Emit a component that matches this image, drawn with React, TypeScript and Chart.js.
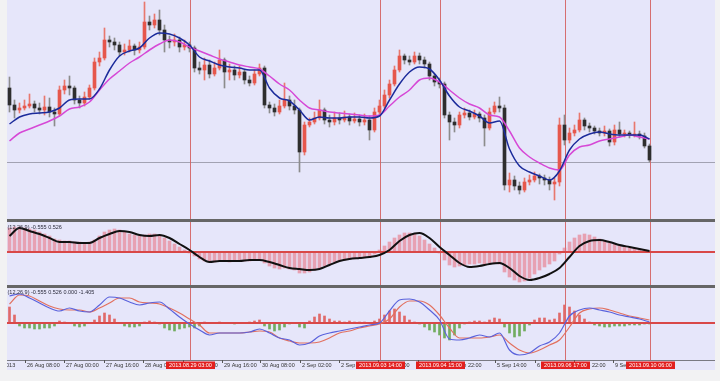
import React, { useEffect, useRef } from "react";
import { Chart, registerables } from "chart.js";

Chart.register(...registerables);

// ---------------- data (2-hour bars, price in chart units) ----------------
const opens = [
  130, 113, 108, 110, 112, 114, 110, 108, 111, 106,
  104, 128, 132, 130, 118, 115, 121, 130, 156, 160,
  178, 176, 173, 166, 168, 172, 168, 171, 196, 193,
  198, 188, 178, 176, 178, 171, 173, 170, 150, 148,
  153, 144, 150, 158, 146, 148, 143, 146, 138, 135,
  144, 150, 113, 110, 106, 112, 118, 112, 108, 66,
  93, 96, 100, 108, 98, 96, 100, 98, 101, 97,
  99, 96, 98, 88, 106, 112, 123, 134, 148, 162,
  158, 156, 162, 158, 154, 142, 136, 134, 103, 96,
  93, 103, 105, 101, 104, 100, 90, 106, 112, 110,
  33, 38, 32, 28, 36, 38, 42, 40, 38, 34,
  36, 93, 78, 85, 88, 98, 92, 90, 87, 85,
  87, 76, 88, 84, 85, 83, 84, 82, 72,
];
const highs = [
  141, 118, 115, 118, 124, 117, 115, 122, 120, 110,
  132, 138, 142, 132, 122, 126, 133, 160, 166, 190,
  182, 180, 176, 174, 178, 174, 176, 216, 202, 204,
  208, 193, 182, 184, 181, 178, 176, 172, 156, 160,
  158, 156, 168, 160, 154, 152, 152, 148, 142, 148,
  154, 152, 116, 114, 118, 135, 122, 118, 110, 96,
  100, 106, 118, 110, 103, 106, 105, 107, 104, 105,
  103, 104, 102, 110, 118, 128, 138, 152, 168, 164,
  162, 166, 165, 161, 156, 144, 140, 136, 106, 100,
  106, 110, 108, 108, 106, 103, 110, 116, 121, 113,
  45, 42, 36, 40, 43, 46, 44, 43, 41, 40,
  100, 103, 90, 93, 105, 100, 95, 92, 90, 92,
  89, 93, 96, 88, 87, 96, 87, 85, 74,
];
const lows = [
  106, 100, 105, 108, 110, 106, 104, 103, 101, 92,
  102, 124, 123, 114, 110, 112, 119, 128, 152, 158,
  171, 168, 162, 163, 166, 163, 165, 169, 188, 190,
  183, 166, 170, 172, 166, 168, 166, 146, 144, 138,
  140, 142, 148, 130, 138, 138, 140, 134, 132, 133,
  142, 110, 105, 102, 104, 110, 108, 104, 46, 63,
  91, 94, 98, 94, 91, 93, 94, 96, 93, 95,
  92, 93, 78, 86, 104, 110, 120, 132, 146, 154,
  153, 154, 154, 150, 138, 132, 130, 100, 78, 86,
  90, 100, 98, 99, 96, 72, 88, 104, 106, 28,
  26, 28, 24, 26, 33, 36, 34, 33, 28, 18,
  32, 73, 75, 82, 86, 88, 86, 84, 82, 82,
  72, 73, 81, 81, 80, 81, 79, 70, 56,
];
const closes = [
  113, 108, 110, 112, 114, 110, 108, 111, 106, 104,
  128, 132, 130, 118, 115, 121, 130, 156, 160, 178,
  176, 173, 166, 168, 172, 168, 171, 196, 193, 198,
  188, 178, 176, 178, 171, 173, 170, 150, 148, 153,
  144, 150, 158, 146, 148, 143, 146, 138, 135, 144,
  150, 113, 110, 106, 112, 118, 112, 108, 66, 93,
  96, 100, 108, 98, 96, 100, 98, 101, 97, 99,
  96, 98, 88, 106, 112, 123, 134, 148, 162, 158,
  156, 162, 158, 154, 142, 136, 134, 103, 96, 93,
  103, 105, 101, 104, 100, 90, 106, 112, 110, 33,
  38, 32, 28, 36, 38, 42, 40, 38, 34, 36,
  93, 78, 85, 88, 98, 92, 90, 87, 85, 87,
  76, 88, 84, 85, 83, 84, 82, 72, 58,
];

// smooth lines read every LINE_STEP bars
const LINE_STEP = 2;
const maFast = [
  94, 101, 104, 105, 106, 110, 118, 119, 119, 129, 148, 162, 167, 170, 180, 185,
  184, 180, 173, 161, 157, 153, 151, 150, 148, 148, 130, 120, 117, 108, 98, 101,
  100, 100, 101, 101, 100, 102, 118, 134, 146, 151, 149, 138, 122, 111, 107, 102,
  95, 97, 69, 52, 46, 42, 38, 47, 68, 79, 84, 86, 84, 83, 83, 83, 79,
];
const maSlow = [
  77, 85, 89, 93, 97, 102, 109, 111, 116, 128, 139, 147, 155, 161, 168, 174,
  178, 176, 171, 167, 163, 159, 156, 153, 151, 149, 142, 134, 128, 118, 110, 108,
  106, 105, 104, 103, 102, 103, 112, 121, 128, 138, 140, 136, 128, 120, 114, 110,
  103, 101, 87, 70, 61, 55, 50, 48, 63, 71, 73, 77, 79, 81, 83, 81, 79,
];
const refLevel = 56;

// MACD panel
const macdHist = [
  24, 25, 25, 24, 23, 22, 20, 18, 16, 13,
  12, 11, 11, 10, 10, 9, 10, 12, 16, 20,
  22, 23, 22, 20, 18, 17, 16, 17, 18, 18,
  16, 14, 11, 8, 5, 2, -1, -4, -7, -9,
  -10, -10, -9, -9, -10, -9, -8, -9, -9, -8,
  -7, -11, -14, -16, -17, -16, -17, -18, -21, -21,
  -20, -18, -16, -14, -12, -10, -9, -8, -7, -6,
  -6, -5, -5, -2, 2, 6, 10, 14, 17, 19,
  19, 18, 16, 12, 8, 4, -1, -8, -13, -15,
  -14, -13, -12, -12, -11, -12, -11, -11, -12, -20,
  -25, -28, -30, -29, -26, -22, -18, -15, -12, -9,
  -2, 4, 10, 14, 17, 18, 17, 15, 13, 11,
  9, 8, 7, 6, 5, 4, 3, 2, 1,
];
const macdSignal = [
  16, 24, 21, 18, 14, 10, 10, 9, 9, 14, 18, 21, 20, 17, 16, 17,
  14, 8, 2, -5, -10, -9, -9, -9, -8, -8, -10, -13, -16, -17, -18, -17,
  -13, -9, -7, -6, -5, -3, 2, 11, 17, 19, 14, 5, -3, -11, -15, -14,
  -12, -11, -16, -24, -28, -26, -22, -16, -5, 6, 11, 12, 10, 7, 5, 3, 1,
];

// second MACD panel (main, signal, difference)
const osMain = [
  27, 29, 25, 20, 15, 12, 15, 12, 11, 18, 26, 25, 21, 18, 20, 21,
  14, 6, -1, -7, -12, -10, -10, -10, -9, -6, -10, -15, -17, -22, -20, -13,
  -10, -8, -6, -4, -2, 0, 12, 23, 24, 21, 13, 3, -16, -17, -15, -12,
  -14, -10, -27, -32, -30, -23, -19, -10, 7, 13, 15, 13, 11, 8, 6, 4, 1,
];
const osSignal = [
  19, 28, 27, 22, 17, 14, 13, 13, 11, 15, 20, 25, 25, 21, 20, 19,
  15, 10, 4, -2, -10, -10, -10, -10, -9, -8, -9, -15, -18, -20, -20, -19,
  -15, -10, -8, -5, -3, -1, 4, 16, 22, 22, 18, 8, -5, -15, -15, -15,
  -14, -12, -20, -27, -30, -27, -22, -17, -4, 10, 14, 15, 13, 10, 7, 5, 3,
];
const osHist = [
  16, 8, -3, -5, -5, -6, -6, -5, -5, -3,
  2, 1, 0, -3, -4, -3, 0, 3, 7, 10,
  8, 4, 0, -3, -4, -4, -3, 1, 2, 1,
  -1, -5, -7, -8, -6, -5, -4, -5, -3, 1,
  0, 0, 1, 0, 0, -1, 0, 0, 1, 2,
  3, -3, -6, -8, -7, -4, -1, 0, -4, -5,
  2, 6, 9, 7, 4, 2, 2, 1, 2, 1,
  1, 1, 0, 2, 4, 8, 12, 14, 11, 7,
  3, 1, -1, -4, -7, -9, -12, -15, -17, -12,
  -5, -1, 1, 2, 2, 1, 3, 5, 4, -4,
  -10, -14, -13, -8, -2, 3, 5, 5, 3, 4,
  10, 18, 16, 12, 8, 4, 1, -2, -3, -4,
  -4, -3, -3, -3, -2, -2, -2, -1, -1,
];

// time axis
const timeLabels = [
  "23 Aug 2013", "26 Aug 08:00", "27 Aug 00:00", "27 Aug 16:00", "28 Aug 08:00",
  "29 Aug 00:00", "29 Aug 16:00", "30 Aug 08:00", "2 Sep 02:00", "2 Sep 22:00",
  "3 Sep 14:00", "4 Sep 06:00", "4 Sep 22:00", "5 Sep 14:00", "6 Sep 06:00",
  "6 Sep 22:00", "9 Sep 14:00",
];
const timeLabelBars = [
  -5.4, 3.1, 10.9, 18.9, 26.7, 34.7, 42.5, 50.1, 58.1, 65.9, 73.7, 81.7, 88.0,
  97.1, 105.1, 112.9, 120.7,
];
const markerBars = [36, 74, 86, 111, 128];
const markerLabels = [
  "2013.08.29 03:00", "2013.09.03 14:00", "2013.09.04 15:00", "2013.09.06 17:00",
  "2013.09.10 06:00",
];
const panel1Title = "(12,26,9) -0.555 0.526";
const panel2Title = "(12,26,9) -0.555 0.526 0.000 -1.405";

// ---------------- styling ----------------
const PAGE_BG = "#f2f2f3";
const PANEL_BG = "#e6e6fa";
const BULL = "#e6574c";
const BULL_WICK = "#e8786e";
const BEAR = "#2e2e2e";
const BEAR_WICK = "#8c8c8c";
const FONT = '5.5px "Liberation Sans", Arial, sans-serif';
const X_MIN = -0.5;
const X_MAX = 141.1;
const W = 708;

const xAxis = () => ({ type: "linear", min: X_MIN, max: X_MAX, offset: false, display: false });
const baseOptions = (ymin: number, ymax: number, padBottom = 0) => ({
  animation: false,
  responsive: false,
  devicePixelRatio: 1,
  events: [],
  layout: { padding: { left: 0, right: 0, top: 0, bottom: padBottom } },
  plugins: { legend: { display: false }, tooltip: { enabled: false } },
  scales: { x: xAxis(), y: { min: ymin, max: ymax, display: false } },
});

function drawMarkers(chart: any) {
  const { ctx, chartArea, scales } = chart;
  ctx.save();
  ctx.fillStyle = "rgba(212,96,96,0.9)";
  for (const b of markerBars) {
    const x = Math.round(scales.x.getPixelForValue(b));
    ctx.fillRect(x, chartArea.top, 1, chartArea.bottom - chartArea.top);
  }
  ctx.restore();
}
function drawZero(chart: any) {
  const { ctx, chartArea, scales } = chart;
  const y = Math.round(scales.y.getPixelForValue(0));
  ctx.save();
  ctx.fillStyle = "#d94848";
  ctx.fillRect(chartArea.left, y - 1, chartArea.right - chartArea.left, 2);
  ctx.restore();
}
function drawTitle(chart: any, text: string, y: number) {
  const { ctx } = chart;
  ctx.save();
  ctx.font = FONT;
  ctx.fillStyle = "#2c2c3c";
  ctx.textBaseline = "middle";
  ctx.textAlign = "left";
  ctx.fillText(text, 0.5, y);
  ctx.restore();
}

const line = (vals: number[], color: string, width: number) => ({
  type: "line",
  data: vals.map((v, k) => ({ x: k * LINE_STEP, y: v })),
  borderColor: color,
  borderWidth: width,
  pointRadius: 0,
  cubicInterpolationMode: "monotone",
  fill: false,
});

function mainConfig(): any {
  const up = (i: number) => closes[i] >= opens[i];
  return {
    type: "bar",
    data: {
      datasets: [
        line(maFast, "#1b2b9b", 1.5),
        line(maSlow, "#d648d6", 1.5),
        {
          type: "bar",
          data: closes.map((c, i) => ({ x: i, y: [opens[i], c] })),
          barThickness: 3,
          minBarLength: 1,
          grouped: false,
          borderWidth: 0,
          backgroundColor: (c: any) => (up(c.dataIndex) ? BULL : BEAR),
        },
        {
          type: "bar",
          data: lows.map((l, i) => ({ x: i, y: [l, highs[i]] })),
          barThickness: 1,
          grouped: false,
          borderWidth: 0,
          backgroundColor: (c: any) => (up(c.dataIndex) ? BULL_WICK : BEAR_WICK),
        },
      ],
    },
    options: baseOptions(-1, 218),
    plugins: [
      {
        id: "mainDecor",
        beforeDatasetsDraw(chart: any) {
          const { ctx, chartArea, scales } = chart;
          const y = Math.round(scales.y.getPixelForValue(refLevel));
          ctx.save();
          ctx.fillStyle = "#a2a2b2";
          ctx.fillRect(chartArea.left, y, chartArea.right - chartArea.left, 1);
          ctx.restore();
          drawMarkers(chart);
        },
      },
    ],
  };
}

function macdConfig(): any {
  return {
    type: "bar",
    data: {
      datasets: [
        line(macdSignal, "#111111", 2),
        {
          type: "bar",
          data: macdHist.map((v, i) => ({ x: i, y: v })),
          barThickness: 3,
          grouped: false,
          borderWidth: 0,
          backgroundColor: "rgba(232,104,118,0.55)",
        },
      ],
    },
    options: baseOptions(-33, 30),
    plugins: [
      {
        id: "macdDecor",
        beforeDatasetsDraw(chart: any) {
          drawMarkers(chart);
        },
        afterDatasetDraw(chart: any, args: any) {
          if (args.index === 1) drawZero(chart);
        },
        afterDraw(chart: any) {
          drawTitle(chart, panel1Title, 5.5);
        },
      },
    ],
  };
}

function osConfig(): any {
  return {
    type: "bar",
    data: {
      datasets: [
        line(osMain, "#5a62dc", 1.2),
        line(osSignal, "#e2705f", 1.2),
        {
          type: "bar",
          data: osHist.map((v, i) => ({ x: i, y: v })),
          barThickness: 2,
          grouped: false,
          borderWidth: 0,
          backgroundColor: (c: any) => (osHist[c.dataIndex] >= 0 ? "#e06a6a" : "#72ac60"),
        },
      ],
    },
    options: baseOptions(-37, 35, 10),
    plugins: [
      {
        id: "osDecor",
        beforeDatasetsDraw(chart: any) {
          drawMarkers(chart);
        },
        afterDatasetDraw(chart: any, args: any) {
          if (args.index === 2) drawZero(chart);
        },
        afterDraw(chart: any) {
          const { ctx, chartArea, scales } = chart;
          const b = chartArea.bottom;
          drawTitle(chart, panel2Title, 4.5);
          ctx.save();
          ctx.fillStyle = "#7a7a82";
          ctx.fillRect(0, b, W, 1);
          ctx.font = FONT;
          ctx.textBaseline = "middle";
          ctx.textAlign = "left";
          timeLabels.forEach((t, k) => {
            const x = Math.round(scales.x.getPixelForValue(timeLabelBars[k]));
            ctx.fillStyle = "#555";
            ctx.fillRect(x, b, 1, 3);
            ctx.fillStyle = "#333";
            ctx.fillText(t, x + 2, b + 5.5);
          });
          ctx.textAlign = "center";
          markerBars.forEach((m, k) => {
            const x = Math.round(scales.x.getPixelForValue(m)) + 0.5;
            ctx.fillStyle = "#e21f1f";
            ctx.fillRect(x - 24.5, b + 1.5, 49, 7.5);
            ctx.fillStyle = "#ffffff";
            ctx.fillText(markerLabels[k], x, b + 5.5);
          });
          ctx.restore();
        },
      },
    ],
  };
}

export default function App() {
  const r1 = useRef<HTMLCanvasElement>(null);
  const r2 = useRef<HTMLCanvasElement>(null);
  const r3 = useRef<HTMLCanvasElement>(null);

  useEffect(() => {
    const charts = [
      new Chart(r1.current as HTMLCanvasElement, mainConfig()),
      new Chart(r2.current as HTMLCanvasElement, macdConfig()),
      new Chart(r3.current as HTMLCanvasElement, osConfig()),
    ];
    return () => charts.forEach((c) => c.destroy());
  }, []);

  const abs = (left: number, top: number, extra: any = {}) => ({
    position: "absolute" as const,
    left,
    top,
    ...extra,
  });

  return (
    <div style={abs(0, 0, { width: 720, height: 381, background: PAGE_BG, overflow: "hidden" })}>
      <div style={abs(7, 0, { width: W, height: 370, background: PANEL_BG })} />
      <canvas ref={r1} width={W} height={219} style={abs(7, 0, { width: W, height: 219 })} />
      <div style={abs(7, 219, { width: W, height: 3, background: "#666" })} />
      <canvas ref={r2} width={W} height={63} style={abs(7, 222, { width: W, height: 63 })} />
      <div style={abs(7, 285, { width: W, height: 3, background: "#666" })} />
      <canvas ref={r3} width={W} height={82} style={abs(7, 288, { width: W, height: 82 })} />
    </div>
  );
}
